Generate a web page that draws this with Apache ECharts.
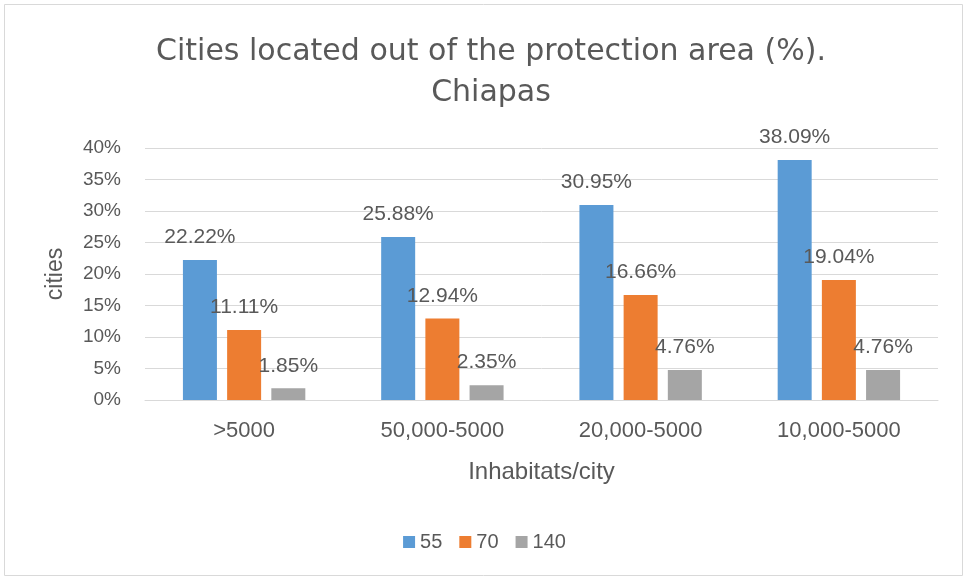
<!DOCTYPE html>
<html>
<head>
<meta charset="utf-8">
<script src="https://cdn.jsdelivr.net/npm/echarts@6/dist/echarts.min.js"></script>
<style>html,body{margin:0;padding:0;background:#fff;}#c{width:969px;height:579px;}</style>
</head>
<body>
<div id="c"></div>
<script>
var categories = ['>5000', '50,000-5000', '20,000-5000', '10,000-5000'];
var seriesNames = ['55', '70', '140'];
var values55 = [22.22, 25.88, 30.95, 38.09];
var values70 = [11.11, 12.94, 16.66, 19.04];
var values140 = [1.85, 2.35, 4.76, 4.76];
var yTicks = [0, 5, 10, 15, 20, 25, 30, 35, 40];

var FONT = '"Liberation Sans", Arial, sans-serif';
var TFONT = '"DejaVu Sans", "Liberation Sans", sans-serif';
var TXT = '#595959';
var colors = ['#5B9BD5', '#ED7D31', '#A5A5A5'];
var chart = echarts.init(document.getElementById('c'), null, {renderer: 'canvas'});

function mk(name, data, color) {
  return {
    name: name, type: 'bar', data: data, barWidth: 34, barGap: '30%',
    itemStyle: {color: color},
    label: {show: true, position: 'top', distance: 12, color: TXT, fontFamily: FONT, fontSize: 21,
      formatter: function (p) { return p.value.toFixed(2) + '%'; }}
  };
}

chart.setOption({
  animation: false,
  textStyle: {fontFamily: FONT},
  graphic: [{type: 'rect', shape: {x: 4.5, y: 4.5, width: 958, height: 571}, style: {fill: 'none', stroke: '#D9D9D9', lineWidth: 1}, z: -1}],
  title: {
    text: 'Cities located out of the protection area (%).\nChiapas',
    left: 486, top: 27, textAlign: 'center',
    textStyle: {fontFamily: TFONT, fontSize: 30, fontWeight: 'normal', color: TXT, lineHeight: 41}
  },
  legend: {
    data: seriesNames, left: 'center', top: 527, itemWidth: 12, itemHeight: 12, itemGap: 17,
    icon: 'rect', textStyle: {fontFamily: FONT, fontSize: 20, color: TXT}
  },
  grid: {left: 145, right: 31, top: 148, bottom: 179},
  xAxis: {
    type: 'category', data: categories,
    name: 'Inhabitats/city', nameLocation: 'middle', nameGap: 60,
    nameTextStyle: {fontFamily: FONT, fontSize: 24, color: TXT},
    axisLine: {lineStyle: {color: '#D9D9D9', width: 1}},
    axisTick: {show: false},
    axisLabel: {color: TXT, fontFamily: FONT, fontSize: 22, margin: 20}
  },
  yAxis: {
    type: 'value', min: 0, max: 40, interval: 5,
    name: 'cities', nameLocation: 'middle', nameGap: 78,
    nameTextStyle: {fontFamily: FONT, fontSize: 23, color: TXT},
    axisLine: {show: false}, axisTick: {show: false},
    splitLine: {lineStyle: {color: '#D9D9D9', width: 1}},
    axisLabel: {color: TXT, fontFamily: FONT, fontSize: 19, margin: 24,
      formatter: function (v) { return yTicks.indexOf(v) >= 0 ? v + '%' : ''; }}
  },
  series: [mk(seriesNames[0], values55, colors[0]), mk(seriesNames[1], values70, colors[1]), mk(seriesNames[2], values140, colors[2])]
});
</script>
</body>
</html>
